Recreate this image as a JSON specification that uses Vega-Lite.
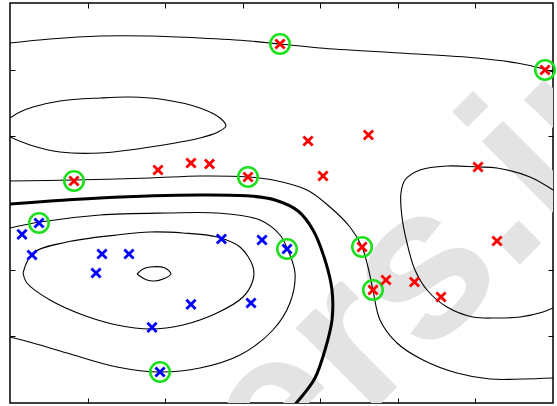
{
  "$schema": "https://vega.github.io/schema/vega-lite/v6.json",
  "width": 543,
  "height": 400,
  "autosize": "none",
  "padding": {"left": 10, "top": 3, "right": 4, "bottom": 3},
  "background": "white",
  "config": {
    "view": {"stroke": "black", "strokeWidth": 1.5},
    "axis": {"labels": false, "domain": false, "grid": false, "ticks": true, "tickSize": -5, "tickColor": "black", "tickWidth": 1, "title": null}
  },
  "datasets": {
    "pts": [
      {"x": 3.481, "y": 5.385, "cls": "pos", "sv": true},
      {"x": 6.897, "y": 4.995, "cls": "pos", "sv": true},
      {"x": 0.825, "y": 3.33, "cls": "pos", "sv": true},
      {"x": 3.068, "y": 3.39, "cls": "pos", "sv": true},
      {"x": 1.908, "y": 3.495, "cls": "pos", "sv": false},
      {"x": 2.333, "y": 3.6, "cls": "pos", "sv": false},
      {"x": 2.572, "y": 3.585, "cls": "pos", "sv": false},
      {"x": 3.842, "y": 3.93, "cls": "pos", "sv": false},
      {"x": 4.621, "y": 4.02, "cls": "pos", "sv": false},
      {"x": 4.035, "y": 3.405, "cls": "pos", "sv": false},
      {"x": 6.033, "y": 3.54, "cls": "pos", "sv": false},
      {"x": 6.278, "y": 2.43, "cls": "pos", "sv": false},
      {"x": 4.538, "y": 2.34, "cls": "pos", "sv": true},
      {"x": 4.679, "y": 1.695, "cls": "pos", "sv": true},
      {"x": 4.847, "y": 1.845, "cls": "pos", "sv": false},
      {"x": 5.214, "y": 1.815, "cls": "pos", "sv": false},
      {"x": 5.556, "y": 1.59, "cls": "pos", "sv": false},
      {"x": 0.374, "y": 2.7, "cls": "neg", "sv": true},
      {"x": 0.155, "y": 2.528, "cls": "neg", "sv": false},
      {"x": 0.284, "y": 2.22, "cls": "neg", "sv": false},
      {"x": 1.186, "y": 2.235, "cls": "neg", "sv": false},
      {"x": 1.534, "y": 2.235, "cls": "neg", "sv": false},
      {"x": 1.109, "y": 1.95, "cls": "neg", "sv": false},
      {"x": 2.726, "y": 2.46, "cls": "neg", "sv": false},
      {"x": 3.249, "y": 2.445, "cls": "neg", "sv": false},
      {"x": 3.571, "y": 2.31, "cls": "neg", "sv": true},
      {"x": 2.333, "y": 1.478, "cls": "neg", "sv": false},
      {"x": 3.107, "y": 1.5, "cls": "neg", "sv": false},
      {"x": 1.831, "y": 1.133, "cls": "neg", "sv": false},
      {"x": 1.934, "y": 0.465, "cls": "neg", "sv": true}
    ],
    "contours": [
      {"seg": "A", "level": 1, "o": 0, "x": 0, "y": 5.4},
      {"seg": "A", "level": 1, "o": 1, "x": 0.516, "y": 5.46},
      {"seg": "A", "level": 1, "o": 2, "x": 1.16, "y": 5.505},
      {"seg": "A", "level": 1, "o": 3, "x": 1.805, "y": 5.505},
      {"seg": "A", "level": 1, "o": 4, "x": 2.449, "y": 5.475},
      {"seg": "A", "level": 1, "o": 5, "x": 3.094, "y": 5.43},
      {"seg": "A", "level": 1, "o": 6, "x": 3.481, "y": 5.385},
      {"seg": "A", "level": 1, "o": 7, "x": 3.996, "y": 5.325},
      {"seg": "A", "level": 1, "o": 8, "x": 5.027, "y": 5.25},
      {"seg": "A", "level": 1, "o": 9, "x": 6.02, "y": 5.175},
      {"seg": "A", "level": 1, "o": 10, "x": 6.536, "y": 5.1},
      {"seg": "A", "level": 1, "o": 11, "x": 6.832, "y": 5.025},
      {"seg": "A", "level": 1, "o": 12, "x": 7.0, "y": 4.965},
      {"seg": "B", "level": 2, "o": 0, "x": 0, "y": 4.275},
      {"seg": "B", "level": 2, "o": 1, "x": 0.129, "y": 4.365},
      {"seg": "B", "level": 2, "o": 2, "x": 0.296, "y": 4.44},
      {"seg": "B", "level": 2, "o": 3, "x": 0.645, "y": 4.53},
      {"seg": "B", "level": 2, "o": 4, "x": 1.16, "y": 4.575},
      {"seg": "B", "level": 2, "o": 5, "x": 1.547, "y": 4.59},
      {"seg": "B", "level": 2, "o": 6, "x": 1.934, "y": 4.56},
      {"seg": "B", "level": 2, "o": 7, "x": 2.449, "y": 4.425},
      {"seg": "B", "level": 2, "o": 8, "x": 2.707, "y": 4.275},
      {"seg": "B", "level": 2, "o": 9, "x": 2.784, "y": 4.155},
      {"seg": "B", "level": 2, "o": 10, "x": 2.681, "y": 4.065},
      {"seg": "B", "level": 2, "o": 11, "x": 2.449, "y": 3.975},
      {"seg": "B", "level": 2, "o": 12, "x": 1.805, "y": 3.84},
      {"seg": "B", "level": 2, "o": 13, "x": 1.16, "y": 3.75},
      {"seg": "B", "level": 2, "o": 14, "x": 0.645, "y": 3.765},
      {"seg": "B", "level": 2, "o": 15, "x": 0.258, "y": 3.87},
      {"seg": "B", "level": 2, "o": 16, "x": 0, "y": 3.99},
      {"seg": "C", "level": 1, "o": 0, "x": 0, "y": 3.33},
      {"seg": "C", "level": 1, "o": 1, "x": 0.812, "y": 3.345},
      {"seg": "C", "level": 1, "o": 2, "x": 1.805, "y": 3.375},
      {"seg": "C", "level": 1, "o": 3, "x": 2.449, "y": 3.405},
      {"seg": "C", "level": 1, "o": 4, "x": 3.068, "y": 3.39},
      {"seg": "C", "level": 1, "o": 5, "x": 3.39, "y": 3.345},
      {"seg": "C", "level": 1, "o": 6, "x": 3.829, "y": 3.195},
      {"seg": "C", "level": 1, "o": 7, "x": 4.125, "y": 2.94},
      {"seg": "C", "level": 1, "o": 8, "x": 4.383, "y": 2.64},
      {"seg": "C", "level": 1, "o": 9, "x": 4.538, "y": 2.34},
      {"seg": "C", "level": 1, "o": 10, "x": 4.615, "y": 2.04},
      {"seg": "C", "level": 1, "o": 11, "x": 4.679, "y": 1.695},
      {"seg": "C", "level": 1, "o": 12, "x": 4.77, "y": 1.245},
      {"seg": "C", "level": 1, "o": 13, "x": 4.989, "y": 0.9},
      {"seg": "C", "level": 1, "o": 14, "x": 5.324, "y": 0.645},
      {"seg": "C", "level": 1, "o": 15, "x": 5.762, "y": 0.45},
      {"seg": "C", "level": 1, "o": 16, "x": 6.188, "y": 0.36},
      {"seg": "C", "level": 1, "o": 17, "x": 6.613, "y": 0.36},
      {"seg": "C", "level": 1, "o": 18, "x": 7.0, "y": 0.375},
      {"seg": "D", "level": 0, "o": 0, "x": 0, "y": 2.985},
      {"seg": "D", "level": 0, "o": 1, "x": 1.16, "y": 3.075},
      {"seg": "D", "level": 0, "o": 2, "x": 2.449, "y": 3.12},
      {"seg": "D", "level": 0, "o": 3, "x": 3.094, "y": 3.105},
      {"seg": "D", "level": 0, "o": 4, "x": 3.416, "y": 3.045},
      {"seg": "D", "level": 0, "o": 5, "x": 3.713, "y": 2.88},
      {"seg": "D", "level": 0, "o": 6, "x": 3.906, "y": 2.595},
      {"seg": "D", "level": 0, "o": 7, "x": 4.061, "y": 2.145},
      {"seg": "D", "level": 0, "o": 8, "x": 4.151, "y": 1.695},
      {"seg": "D", "level": 0, "o": 9, "x": 4.151, "y": 1.245},
      {"seg": "D", "level": 0, "o": 10, "x": 4.061, "y": 0.795},
      {"seg": "D", "level": 0, "o": 11, "x": 3.932, "y": 0.375},
      {"seg": "D", "level": 0, "o": 12, "x": 3.777, "y": 0.12},
      {"seg": "D", "level": 0, "o": 13, "x": 3.609, "y": -0.105},
      {"seg": "E", "level": -1, "o": 0, "x": 0, "y": 2.625},
      {"seg": "E", "level": -1, "o": 1, "x": 0.387, "y": 2.715},
      {"seg": "E", "level": -1, "o": 2, "x": 1.16, "y": 2.82},
      {"seg": "E", "level": -1, "o": 3, "x": 2.024, "y": 2.85},
      {"seg": "E", "level": -1, "o": 4, "x": 2.668, "y": 2.85},
      {"seg": "E", "level": -1, "o": 5, "x": 3.223, "y": 2.745},
      {"seg": "E", "level": -1, "o": 6, "x": 3.481, "y": 2.52},
      {"seg": "E", "level": -1, "o": 7, "x": 3.571, "y": 2.325},
      {"seg": "E", "level": -1, "o": 8, "x": 3.674, "y": 1.95},
      {"seg": "E", "level": -1, "o": 9, "x": 3.609, "y": 1.5},
      {"seg": "E", "level": -1, "o": 10, "x": 3.39, "y": 1.095},
      {"seg": "E", "level": -1, "o": 11, "x": 2.965, "y": 0.72},
      {"seg": "E", "level": -1, "o": 12, "x": 2.449, "y": 0.525},
      {"seg": "E", "level": -1, "o": 13, "x": 1.934, "y": 0.465},
      {"seg": "E", "level": -1, "o": 14, "x": 1.379, "y": 0.54},
      {"seg": "E", "level": -1, "o": 15, "x": 0.735, "y": 0.75},
      {"seg": "E", "level": -1, "o": 16, "x": 0.296, "y": 0.9},
      {"seg": "E", "level": -1, "o": 17, "x": 0, "y": 0.99},
      {"seg": "F", "level": -2, "o": 0, "x": 0.168, "y": 1.95},
      {"seg": "F", "level": -2, "o": 1, "x": 0.296, "y": 2.25},
      {"seg": "F", "level": -2, "o": 2, "x": 0.735, "y": 2.415},
      {"seg": "F", "level": -2, "o": 3, "x": 1.379, "y": 2.52},
      {"seg": "F", "level": -2, "o": 4, "x": 1.805, "y": 2.565},
      {"seg": "F", "level": -2, "o": 5, "x": 2.23, "y": 2.55},
      {"seg": "F", "level": -2, "o": 6, "x": 2.668, "y": 2.49},
      {"seg": "F", "level": -2, "o": 7, "x": 2.965, "y": 2.34},
      {"seg": "F", "level": -2, "o": 8, "x": 3.133, "y": 2.04},
      {"seg": "F", "level": -2, "o": 9, "x": 3.133, "y": 1.845},
      {"seg": "F", "level": -2, "o": 10, "x": 3.004, "y": 1.59},
      {"seg": "F", "level": -2, "o": 11, "x": 2.668, "y": 1.35},
      {"seg": "F", "level": -2, "o": 12, "x": 2.23, "y": 1.17},
      {"seg": "F", "level": -2, "o": 13, "x": 1.805, "y": 1.11},
      {"seg": "F", "level": -2, "o": 14, "x": 1.379, "y": 1.17},
      {"seg": "F", "level": -2, "o": 15, "x": 0.941, "y": 1.32},
      {"seg": "F", "level": -2, "o": 16, "x": 0.516, "y": 1.545},
      {"seg": "F", "level": -2, "o": 17, "x": 0.219, "y": 1.8},
      {"seg": "F", "level": -2, "o": 18, "x": 0.168, "y": 1.95},
      {"seg": "G", "level": -3, "o": 0, "x": 1.637, "y": 1.935},
      {"seg": "G", "level": -3, "o": 1, "x": 1.714, "y": 2.01},
      {"seg": "G", "level": -3, "o": 2, "x": 1.805, "y": 2.04},
      {"seg": "G", "level": -3, "o": 3, "x": 1.998, "y": 2.025},
      {"seg": "G", "level": -3, "o": 4, "x": 2.075, "y": 1.935},
      {"seg": "G", "level": -3, "o": 5, "x": 1.972, "y": 1.86},
      {"seg": "G", "level": -3, "o": 6, "x": 1.869, "y": 1.83},
      {"seg": "G", "level": -3, "o": 7, "x": 1.766, "y": 1.845},
      {"seg": "G", "level": -3, "o": 8, "x": 1.637, "y": 1.935},
      {"seg": "H", "level": 2, "o": 0, "x": 7.0, "y": 3.195},
      {"seg": "H", "level": 2, "o": 1, "x": 6.703, "y": 3.39},
      {"seg": "H", "level": 2, "o": 2, "x": 6.278, "y": 3.525},
      {"seg": "H", "level": 2, "o": 3, "x": 6.02, "y": 3.54},
      {"seg": "H", "level": 2, "o": 4, "x": 5.633, "y": 3.555},
      {"seg": "H", "level": 2, "o": 5, "x": 5.285, "y": 3.495},
      {"seg": "H", "level": 2, "o": 6, "x": 5.092, "y": 3.345},
      {"seg": "H", "level": 2, "o": 7, "x": 5.04, "y": 3.15},
      {"seg": "H", "level": 2, "o": 8, "x": 5.053, "y": 2.79},
      {"seg": "H", "level": 2, "o": 9, "x": 5.118, "y": 2.4},
      {"seg": "H", "level": 2, "o": 10, "x": 5.221, "y": 1.995},
      {"seg": "H", "level": 2, "o": 11, "x": 5.376, "y": 1.695},
      {"seg": "H", "level": 2, "o": 12, "x": 5.633, "y": 1.44},
      {"seg": "H", "level": 2, "o": 13, "x": 5.969, "y": 1.29},
      {"seg": "H", "level": 2, "o": 14, "x": 6.278, "y": 1.275},
      {"seg": "H", "level": 2, "o": 15, "x": 6.575, "y": 1.29},
      {"seg": "H", "level": 2, "o": 16, "x": 6.871, "y": 1.365},
      {"seg": "H", "level": 2, "o": 17, "x": 7.0, "y": 1.425}
    ],
    "mark": [
      {"x": 3.497, "y": -1.499, "label": "ers.in"}
    ]
  },
  "layer": [
    {
      "data": {"name": "mark"},
      "mark": {"type": "text", "angle": -45, "align": "left", "baseline": "alphabetic", "font": "Liberation Sans", "fontWeight": "bold", "fontSize": 215, "color": "#e3e3e3", "clip": true},
      "encoding": {
        "x": {"field": "x", "type": "quantitative", "scale": {"domain": [0, 7], "nice": false, "zero": false}, "axis": {"orient": "bottom", "values": [1, 2, 3, 4, 5, 6]}},
        "y": {"field": "y", "type": "quantitative", "scale": {"domain": [0, 6], "nice": false, "zero": false}, "axis": {"orient": "left", "values": [1, 2, 3, 4, 5]}},
        "text": {"field": "label"}
      }
    },
    {
      "data": {"name": "contours"},
      "transform": [{"filter": "datum.level != 0"}],
      "mark": {"type": "line", "interpolate": "catmull-rom", "color": "black", "strokeWidth": 1.1, "clip": true},
      "encoding": {
        "x": {"field": "x", "type": "quantitative", "axis": {"orient": "top", "values": [1, 2, 3, 4, 5, 6]}},
        "y": {"field": "y", "type": "quantitative", "axis": {"orient": "right", "values": [1, 2, 3, 4, 5]}},
        "detail": {"field": "seg"},
        "order": {"field": "o"}
      }
    },
    {
      "data": {"name": "contours"},
      "transform": [{"filter": "datum.level == 0"}],
      "mark": {"type": "line", "interpolate": "catmull-rom", "color": "black", "strokeWidth": 3, "clip": true},
      "encoding": {
        "x": {"field": "x", "type": "quantitative", "axis": null},
        "y": {"field": "y", "type": "quantitative", "axis": null},
        "detail": {"field": "seg"},
        "order": {"field": "o"}
      }
    },
    {
      "data": {"name": "pts"},
      "transform": [{"filter": "datum.sv"}],
      "mark": {"type": "point", "shape": "circle", "filled": false, "size": 380, "strokeWidth": 2.6, "color": "#1be01b", "opacity": 1},
      "encoding": {
        "x": {"field": "x", "type": "quantitative", "axis": null},
        "y": {"field": "y", "type": "quantitative", "axis": null}
      }
    },
    {
      "data": {"name": "pts"},
      "mark": {"type": "point", "shape": "M-1,-1L1,1M-1,1L1,-1", "filled": false, "size": 85, "strokeWidth": 2.8, "opacity": 1},
      "encoding": {
        "x": {"field": "x", "type": "quantitative", "axis": null},
        "y": {"field": "y", "type": "quantitative", "axis": null},
        "color": {"field": "cls", "type": "nominal", "scale": {"domain": ["pos", "neg"], "range": ["#ff0000", "#0000ff"]}, "legend": null}
      }
    }
  ],
  "resolve": {"axis": {"x": "independent", "y": "independent"}}
}
